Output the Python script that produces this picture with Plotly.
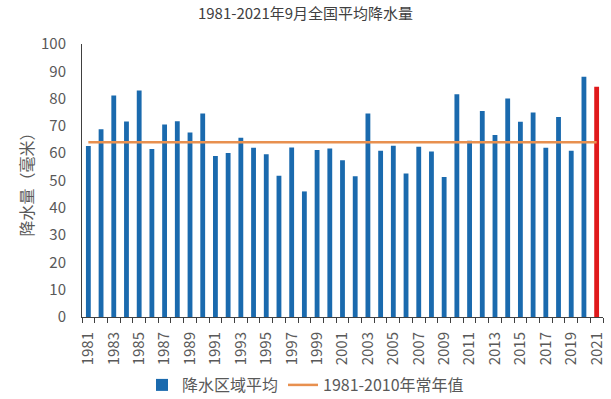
import plotly.graph_objects as go

years = list(range(1981, 2022))
precip = [62.6, 68.8, 81.1, 71.6, 83.0, 61.5, 70.5, 71.7, 67.6, 74.5,
          59.0, 60.1, 65.7, 62.0, 59.6, 51.7, 62.1, 46.0, 61.2, 61.7,
          57.4, 51.6, 74.5, 60.9, 62.7, 52.6, 62.4, 60.6, 51.3, 81.6,
          64.6, 75.5, 66.7, 80.0, 71.5, 74.9, 62.0, 73.3, 60.9, 88.0,
          84.3]
normal_value = 64.0
tick_years = list(range(1981, 2022, 2))

BLUE = "#1A6AAE"
RED = "#E0191B"
ORANGE = "#E8904F"
FONT = "Noto Sans CJK SC"

bar_colors = [BLUE] * (len(years) - 1) + [RED]

fig = go.Figure()
fig.add_trace(go.Bar(
    x=years, y=precip, name="降水区域平均",
    marker=dict(color=bar_colors, line=dict(width=0)),
    width=0.38,
))
fig.add_trace(go.Scatter(
    x=years, y=[normal_value] * len(years), name="1981-2010年常年值",
    mode="lines", line=dict(color=ORANGE, width=2.5),
))

fig.update_layout(
    width=611, height=399,
    margin=dict(l=82, r=8, t=44, b=82, autoexpand=False),
    paper_bgcolor="white", plot_bgcolor="white",
    font=dict(family=FONT, color="#595959"),
    title=dict(text="1981-2021年9月全国平均降水量", x=0.5, xanchor="center",
               y=1 - 14 / 399, yanchor="middle", font=dict(size=15, color="#404040", family=FONT)),
    showlegend=True,
    legend=dict(orientation="h", x=0.5, xanchor="center", xref="container",
                y=1 - 385 / 399, yanchor="middle", yref="container",
                font=dict(size=16, color="#595959"), itemwidth=30),
    bargap=0.5,
)
fig.update_xaxes(
    range=[1980.5, 2021.5], automargin=False,
    tickmode="array", tickvals=tick_years, ticktext=[str(y) for y in tick_years],
    tickangle=-90, tickfont=dict(size=15, color="#595959"), ticklabelstandoff=8,
    ticks="", showgrid=False, zeroline=False,
    showline=True, linecolor="#404040", linewidth=1,
    minor=dict(tickmode="linear", tick0=1980.5, dtick=1, ticks="outside",
               ticklen=5, tickcolor="#404040", showgrid=False),
)
fig.update_yaxes(
    range=[0, 100], dtick=10, tickfont=dict(size=15, color="#595959"), automargin=False,
    ticklabelstandoff=12,
    showgrid=False, zeroline=False, showline=True, linecolor="#404040", linewidth=1,
    ticks="", title=dict(text="降水量（毫米）", font=dict(size=16, color="#595959"), standoff=3),
)

fig.write_html("out.html", config={"displayModeBar": False},
               post_script="document.body.style.margin='0';document.body.style.overflow='hidden';")
